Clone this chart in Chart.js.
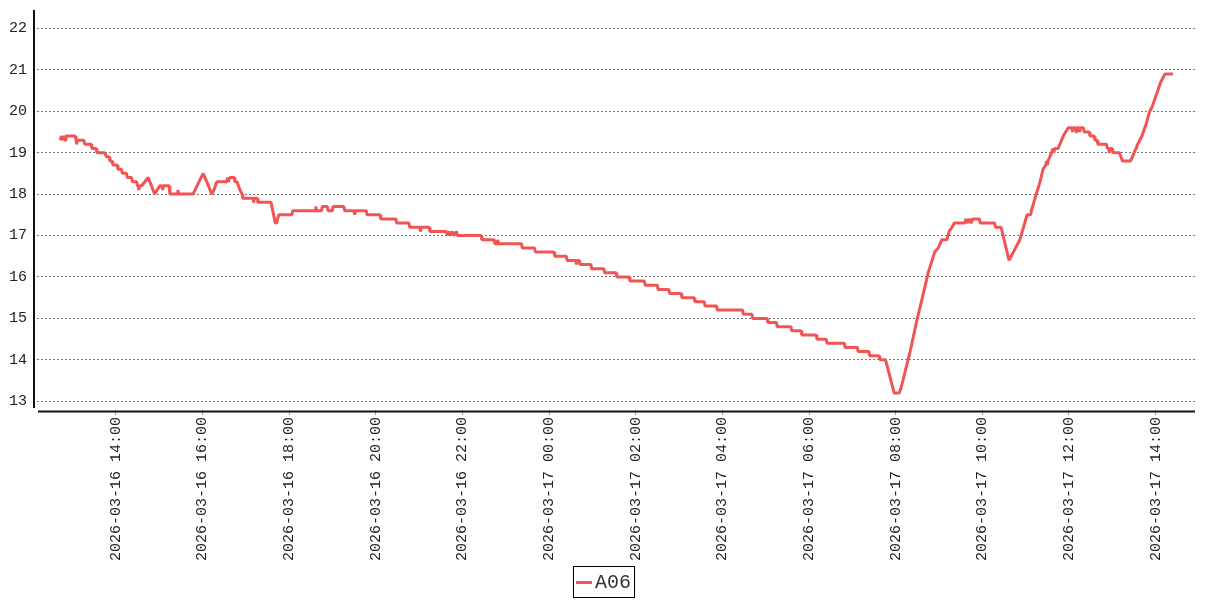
<!DOCTYPE html>
<html>
<head>
<meta charset="utf-8">
<script src="https://cdn.jsdelivr.net/npm/chart.js@4.4.1/dist/chart.umd.min.js"></script>
<style>
    html, body { margin: 0; padding: 0; background: #fff; }
    #wrap { position: relative; width: 1207px; height: 600px; }
    #legend {
        position: absolute; left: 573px; top: 566px; width: 60px; height: 30px;
        border: 1px solid #000; box-sizing: content-box;
        font-family: 'Liberation Mono', monospace; font-size: 20px; color: #333;
        display: flex; align-items: center;
    }
    #legend .swatch { display: inline-block; width: 16px; height: 3px; background: #f25454; margin: 0 3px 0 2px; }
</style>
</head>
<body>
<div id="wrap">
    <canvas id="chart" width="1207" height="600"></canvas>
    <div id="legend"><span class="swatch"></span><span>A06</span></div>
</div>
<script>
// series A06 (time -> temperature)
const timesMar16 = [
    '12:43','12:45','12:46','12:48','12:50','12:51','13:04','13:05','13:06','13:07',
    '13:16','13:17','13:26','13:27','13:33','13:34','13:45','13:47','13:51','13:52',
    '13:55','13:56','14:02','14:03','14:08','14:09','14:15','14:16','14:22','14:23',
    '14:29','14:30','14:31','14:32','14:33','14:36','14:45','14:54','15:01','15:04',
    '15:05','15:06','15:14','15:15','15:25','15:26','15:27','15:47','16:01','16:06',
    '16:13','16:16','16:18','16:20','16:34','16:35','16:36','16:38','16:44','16:45',
    '16:48','16:52','16:55','16:56','17:10','17:11','17:12','17:16','17:17','17:35',
    '17:41','17:43','17:44','17:46','18:04','18:05','18:36','18:37','18:38','18:45',
    '18:46','18:53','18:54','19:00','19:01','19:16','19:17','19:30','19:31','19:32',
    '19:47','19:48','20:06','20:07','20:28','20:29','20:46','20:47','21:01','21:02',
    '21:03','21:14','21:15','21:38','21:39','21:41','21:43','21:46','21:48','21:52',
    '21:53','22:26','22:27','22:44','22:45','22:48','22:49','22:50','23:22','23:23',
    '23:40','23:41'
];
const valuesMar16 = [
    19.3, 19.4, 19.3, 19.4, 19.3, 19.4, 19.4, 19.3, 19.2, 19.3,
    19.3, 19.2, 19.2, 19.1, 19.1, 19.0, 19.0, 18.9, 18.9, 18.8,
    18.8, 18.7, 18.7, 18.6, 18.6, 18.5, 18.5, 18.4, 18.4, 18.3,
    18.3, 18.2, 18.2, 18.1, 18.2, 18.2, 18.4, 18.0, 18.2, 18.2,
    18.1, 18.2, 18.2, 18.0, 18.0, 18.1, 18.0, 18.0, 18.5, 18.3,
    18.0, 18.1, 18.2, 18.3, 18.3, 18.4, 18.3, 18.4, 18.4, 18.3,
    18.3, 18.1, 18.0, 17.9, 17.9, 17.8, 17.9, 17.9, 17.8, 17.8,
    17.3, 17.3, 17.4, 17.5, 17.5, 17.6, 17.6, 17.7, 17.6, 17.6,
    17.7, 17.7, 17.6, 17.6, 17.7, 17.7, 17.6, 17.6, 17.5, 17.6,
    17.6, 17.5, 17.5, 17.4, 17.4, 17.3, 17.3, 17.2, 17.2, 17.1,
    17.2, 17.2, 17.1, 17.1, 17.0, 17.1, 17.0, 17.1, 17.0, 17.1,
    17.0, 17.0, 16.9, 16.9, 16.8, 16.8, 16.9, 16.8, 16.8, 16.7,
    16.7, 16.6
];
const timesMar17 = [
    '00:07','00:08','00:24','00:25','00:37','00:38','00:39','00:42','00:43','00:58',
    '00:59','01:16','01:17','01:33','01:34','01:51','01:52','02:12','02:13','02:30',
    '02:31','02:46','02:47','03:03','03:04','03:21','03:22','03:35','03:36','03:52',
    '03:53','04:28','04:29','04:41','04:42','05:02','05:03','05:15','05:16','05:35',
    '05:36','05:49','05:50','06:10','06:11','06:24','06:25','06:49','06:50','07:07',
    '07:08','07:23','07:24','07:37','07:38','07:46','07:58','08:05','08:07','08:10',
    '08:20','08:30','08:37','08:45','08:54','08:59','09:04','09:11','09:14','09:18',
    '09:21','09:36','09:37','09:40','09:41','09:45','09:46','09:56','09:57','10:17',
    '10:18','10:26','10:37','10:40','10:43','10:52','11:02','11:07','11:08','11:13',
    '11:20','11:24','11:28','11:29','11:30','11:31','11:36','11:38','11:39','11:40',
    '11:45','11:52','11:59','12:04','12:05','12:06','12:09','12:10','12:11','12:14',
    '12:15','12:16','12:20','12:21','12:28','12:29','12:35','12:36','12:39','12:40',
    '12:52','12:53','12:55','12:56','12:57','13:00','13:01','13:10','13:12','13:14',
    '13:25','13:28','13:30','13:33','13:35','13:38','13:41','13:43','13:45','13:47',
    '13:50','13:52','13:55','13:57','13:59','14:01','14:03','14:05','14:07','14:10',
    '14:13','14:24'
];
const valuesMar17 = [
    16.6, 16.5, 16.5, 16.4, 16.4, 16.3, 16.4, 16.4, 16.3, 16.3,
    16.2, 16.2, 16.1, 16.1, 16.0, 16.0, 15.9, 15.9, 15.8, 15.8,
    15.7, 15.7, 15.6, 15.6, 15.5, 15.5, 15.4, 15.4, 15.3, 15.3,
    15.2, 15.2, 15.1, 15.1, 15.0, 15.0, 14.9, 14.9, 14.8, 14.8,
    14.7, 14.7, 14.6, 14.6, 14.5, 14.5, 14.4, 14.4, 14.3, 14.3,
    14.2, 14.2, 14.1, 14.1, 14.0, 14.0, 13.2, 13.2, 13.3, 13.5,
    14.2, 15.0, 15.5, 16.1, 16.6, 16.7, 16.9, 16.9, 17.1, 17.2,
    17.3, 17.3, 17.4, 17.3, 17.4, 17.3, 17.4, 17.4, 17.3, 17.3,
    17.2, 17.2, 16.4, 16.5, 16.6, 16.9, 17.5, 17.5, 17.6, 17.9,
    18.3, 18.6, 18.7, 18.8, 18.7, 18.8, 19.0, 19.1, 19.0, 19.1,
    19.1, 19.4, 19.6, 19.6, 19.5, 19.6, 19.6, 19.5, 19.6, 19.6,
    19.5, 19.6, 19.6, 19.5, 19.5, 19.4, 19.4, 19.3, 19.3, 19.2,
    19.2, 19.1, 19.1, 19.0, 19.1, 19.1, 19.0, 19.0, 18.9, 18.8,
    18.8, 18.9, 19.0, 19.1, 19.2, 19.3, 19.4, 19.5, 19.6, 19.7,
    19.9, 20.0, 20.1, 20.2, 20.3, 20.4, 20.5, 20.6, 20.7, 20.8,
    20.9, 20.9
];

const xTickLabels = [
    '2026-03-16 14:00', '2026-03-16 16:00', '2026-03-16 18:00', '2026-03-16 20:00',
    '2026-03-16 22:00', '2026-03-17 00:00', '2026-03-17 02:00', '2026-03-17 04:00',
    '2026-03-17 06:00', '2026-03-17 08:00', '2026-03-17 10:00', '2026-03-17 12:00',
    '2026-03-17 14:00'
];
const yTicks = [13, 14, 15, 16, 17, 18, 19, 20, 21, 22];
const xStart = '2026-03-16 12:11';
const xEnd = '2026-03-17 14:54:30';

function toMs(s) {
    const [d, t] = s.split(' ');
    const [Y, M, D] = d.split('-').map(Number);
    const [h, m, sec] = t.split(':').map(Number);
    return Date.UTC(Y, M - 1, D, h, m, sec || 0);
}
function fmt(ms) {
    return new Date(ms).toISOString().slice(0, 16).replace('T', ' ');
}

const points = [];
timesMar16.forEach((t, i) => points.push({ x: toMs('2026-03-16 ' + t), y: valuesMar16[i] }));
timesMar17.forEach((t, i) => points.push({ x: toMs('2026-03-17 ' + t), y: valuesMar17[i] }));

// offset axis lines, drawn by hand
const axesLines = {
    id: 'axesLines',
    afterDraw(chart) {
        const { ctx, chartArea: a } = chart;
        ctx.save();
        ctx.strokeStyle = '#111';
        ctx.lineWidth = 2;
        ctx.beginPath();
        ctx.moveTo(a.left - 3, a.top);
        ctx.lineTo(a.left - 3, a.bottom - 2);
        ctx.moveTo(a.left + 1, a.bottom + 1.5);
        ctx.lineTo(a.right, a.bottom + 1.5);
        ctx.stroke();
        ctx.restore();
    }
};

Chart.defaults.font.family = "'Liberation Mono', monospace";
Chart.defaults.color = '#222';

new Chart(document.getElementById('chart').getContext('2d'), {
    type: 'line',
    data: {
        datasets: [{
            label: 'A06',
            data: points,
            borderColor: '#f25454',
            backgroundColor: '#f25454',
            borderWidth: 3,
            borderJoinStyle: 'bevel',
            pointRadius: 0,
            tension: 0,
            fill: false
        }]
    },
    options: {
        responsive: false,
        animation: false,
        devicePixelRatio: 1,
        layout: { padding: { top: 10, right: 12, left: 0, bottom: 0 } },
        plugins: {
            legend: { display: false },
            tooltip: { enabled: false }
        },
        scales: {
            x: {
                type: 'linear',
                min: toMs(xStart),
                max: toMs(xEnd),
                border: { display: false },
                grid: { display: true, drawOnChartArea: false, drawTicks: true, tickLength: 5, color: '#999' },
                afterBuildTicks(scale) {
                    scale.ticks = xTickLabels.map(l => ({ value: toMs(l) }));
                },
                afterFit(scale) { scale.height = 190; },
                ticks: {
                    autoSkip: false,
                    minRotation: 90,
                    maxRotation: 90,
                    padding: 2,
                    font: { size: 15 },
                    callback: v => fmt(v)
                }
            },
            y: {
                min: 12.79,
                max: 22.442,
                border: { display: false, dash: [2, 2] },
                grid: { color: '#777', drawTicks: false, lineWidth: 1 },
                afterBuildTicks(scale) {
                    scale.ticks = yTicks.map(v => ({ value: v }));
                },
                afterFit(scale) {
                    scale.width = 37;
                    scale.paddingTop = 0;
                    scale.paddingBottom = 0;
                },
                ticks: {
                    padding: 10,
                    font: { size: 15 }
                }
            }
        }
    },
    plugins: [axesLines]
});
</script>
</body>
</html>
